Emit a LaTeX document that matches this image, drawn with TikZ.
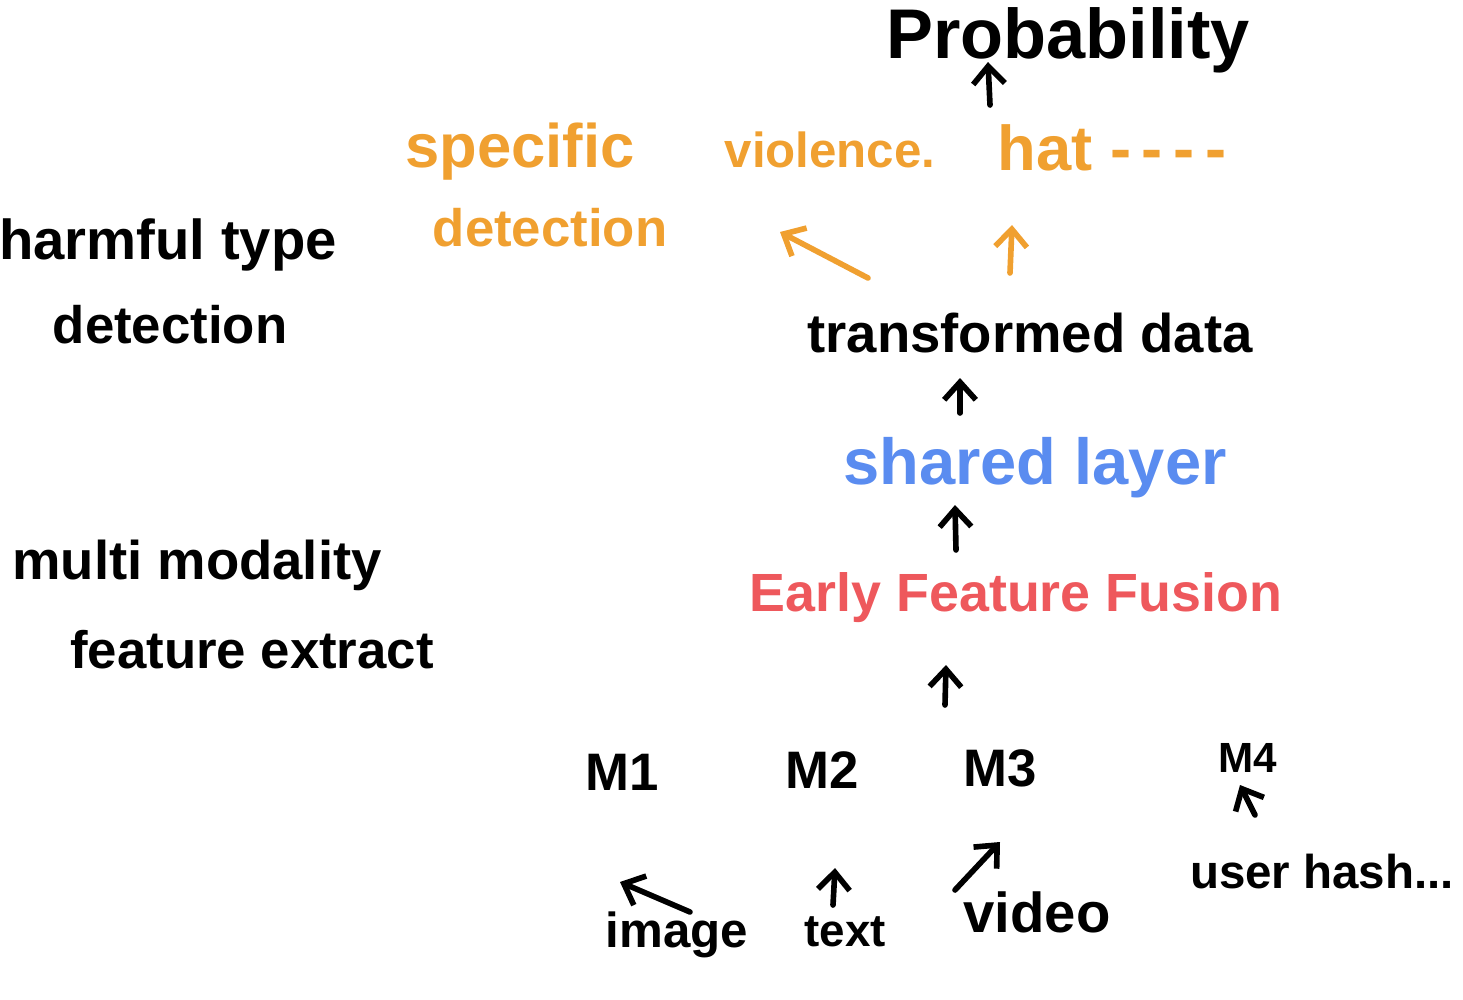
\documentclass[tikz,border=0pt]{standalone}
\usepackage{fontspec}
\setmainfont{Liberation Sans}
\usetikzlibrary{arrows.meta,calc}
\definecolor{hOrange}{RGB}{240,160,48}
\definecolor{hBlue}{RGB}{90,140,240}
\definecolor{hRed}{RGB}{238,88,92}
\tikzset{
  lbl/.style={inner sep=0pt, anchor=center, font=\bfseries},
  arr/.style={-{Straight Barb[length=5pt,width=9pt]}, line width=1.6pt, line cap=round, line join=round},
}
\newcommand{\fs}[1]{\fontsize{#1}{#1}\selectfont}
\begin{document}
\begin{tikzpicture}[x=0.01cm,y=-0.01cm]
\useasboundingbox (0,0) rectangle (1463,1000);
% top
\node[lbl] (prob) at (1068,40) {\fs{20}Probability};
\node[lbl, text=hOrange] (specific) at (520,152) {\fs{17.5}specific};
\node[lbl, text=hOrange] (sdet) at (550,228) {\fs{15}detection};
\node[lbl, text=hOrange] (violence) at (830,150) {\fs{14}violence.};
\node[lbl, text=hOrange] (hat) at (1112,148) {\fs{18}hat -\,-\,-\,-};
% left labels
\node[lbl] (harm) at (168,245) {\fs{16}harmful type};
\node[lbl] (hdet) at (170,325) {\fs{15}detection};
\node[lbl] (multi) at (197,565) {\fs{15.5}multi modality};
\node[lbl] (feat) at (252,650) {\fs{15}feature extract};
% middle chain
\node[lbl] (td) at (1030,333) {\fs{15.5}transformed data};
\node[lbl, text=hBlue] (shared) at (1035,468) {\fs{18.5}shared layer};
\node[lbl, text=hRed] (fusion) at (1016,598) {\fs{15.3}Early Feature Fusion};
% modalities
\node[lbl] (m1) at (622,772) {\fs{15}M1};
\node[lbl] (m2) at (822,770) {\fs{15}M2};
\node[lbl] (m3) at (1000,768) {\fs{15}M3};
\node[lbl] (m4) at (1248,758) {\fs{12}M4};
\node[lbl] (image) at (677,935) {\fs{14}image};
\node[lbl] (text) at (845,932) {\fs{13}text};
\node[lbl] (video) at (1037,912) {\fs{16}video};
\node[lbl] (user) at (1322,872) {\fs{13.5}user hash...};
% connectors
\draw[arr] ($(hat)+(-122,-43)$) -- ($(prob)+(-80,22)$);
\draw[arr, hOrange] ($(td)+(-162,-55)$) -- ($(violence)+(-50,82)$);
\draw[arr, hOrange] ($(td)+(-20,-60)$) -- ($(hat)+(-100,77)$);
\draw[arr] ($(shared)+(-75,-55)$) -- ($(td)+(-70,45)$);
\draw[arr] ($(fusion)+(-60,-48)$) -- ($(shared)+(-80,37)$);
\draw[arr] ($(m3)+(-55,-63)$) -- ($(fusion)+(-70,67)$);
\draw[arr] ($(image)+(13,-23)$) -- ($(m1)+(-2,110)$);
\draw[arr] ($(text)+(-12,-27)$) -- ($(m2)+(13,98)$);
\draw[arr] ($(video)+(-82,-22)$) -- ($(m3)+(0,74)$);
\draw[arr] ($(user)+(-67,-57)$) -- ($(m4)+(-8,27)$);
\end{tikzpicture}
\end{document}
